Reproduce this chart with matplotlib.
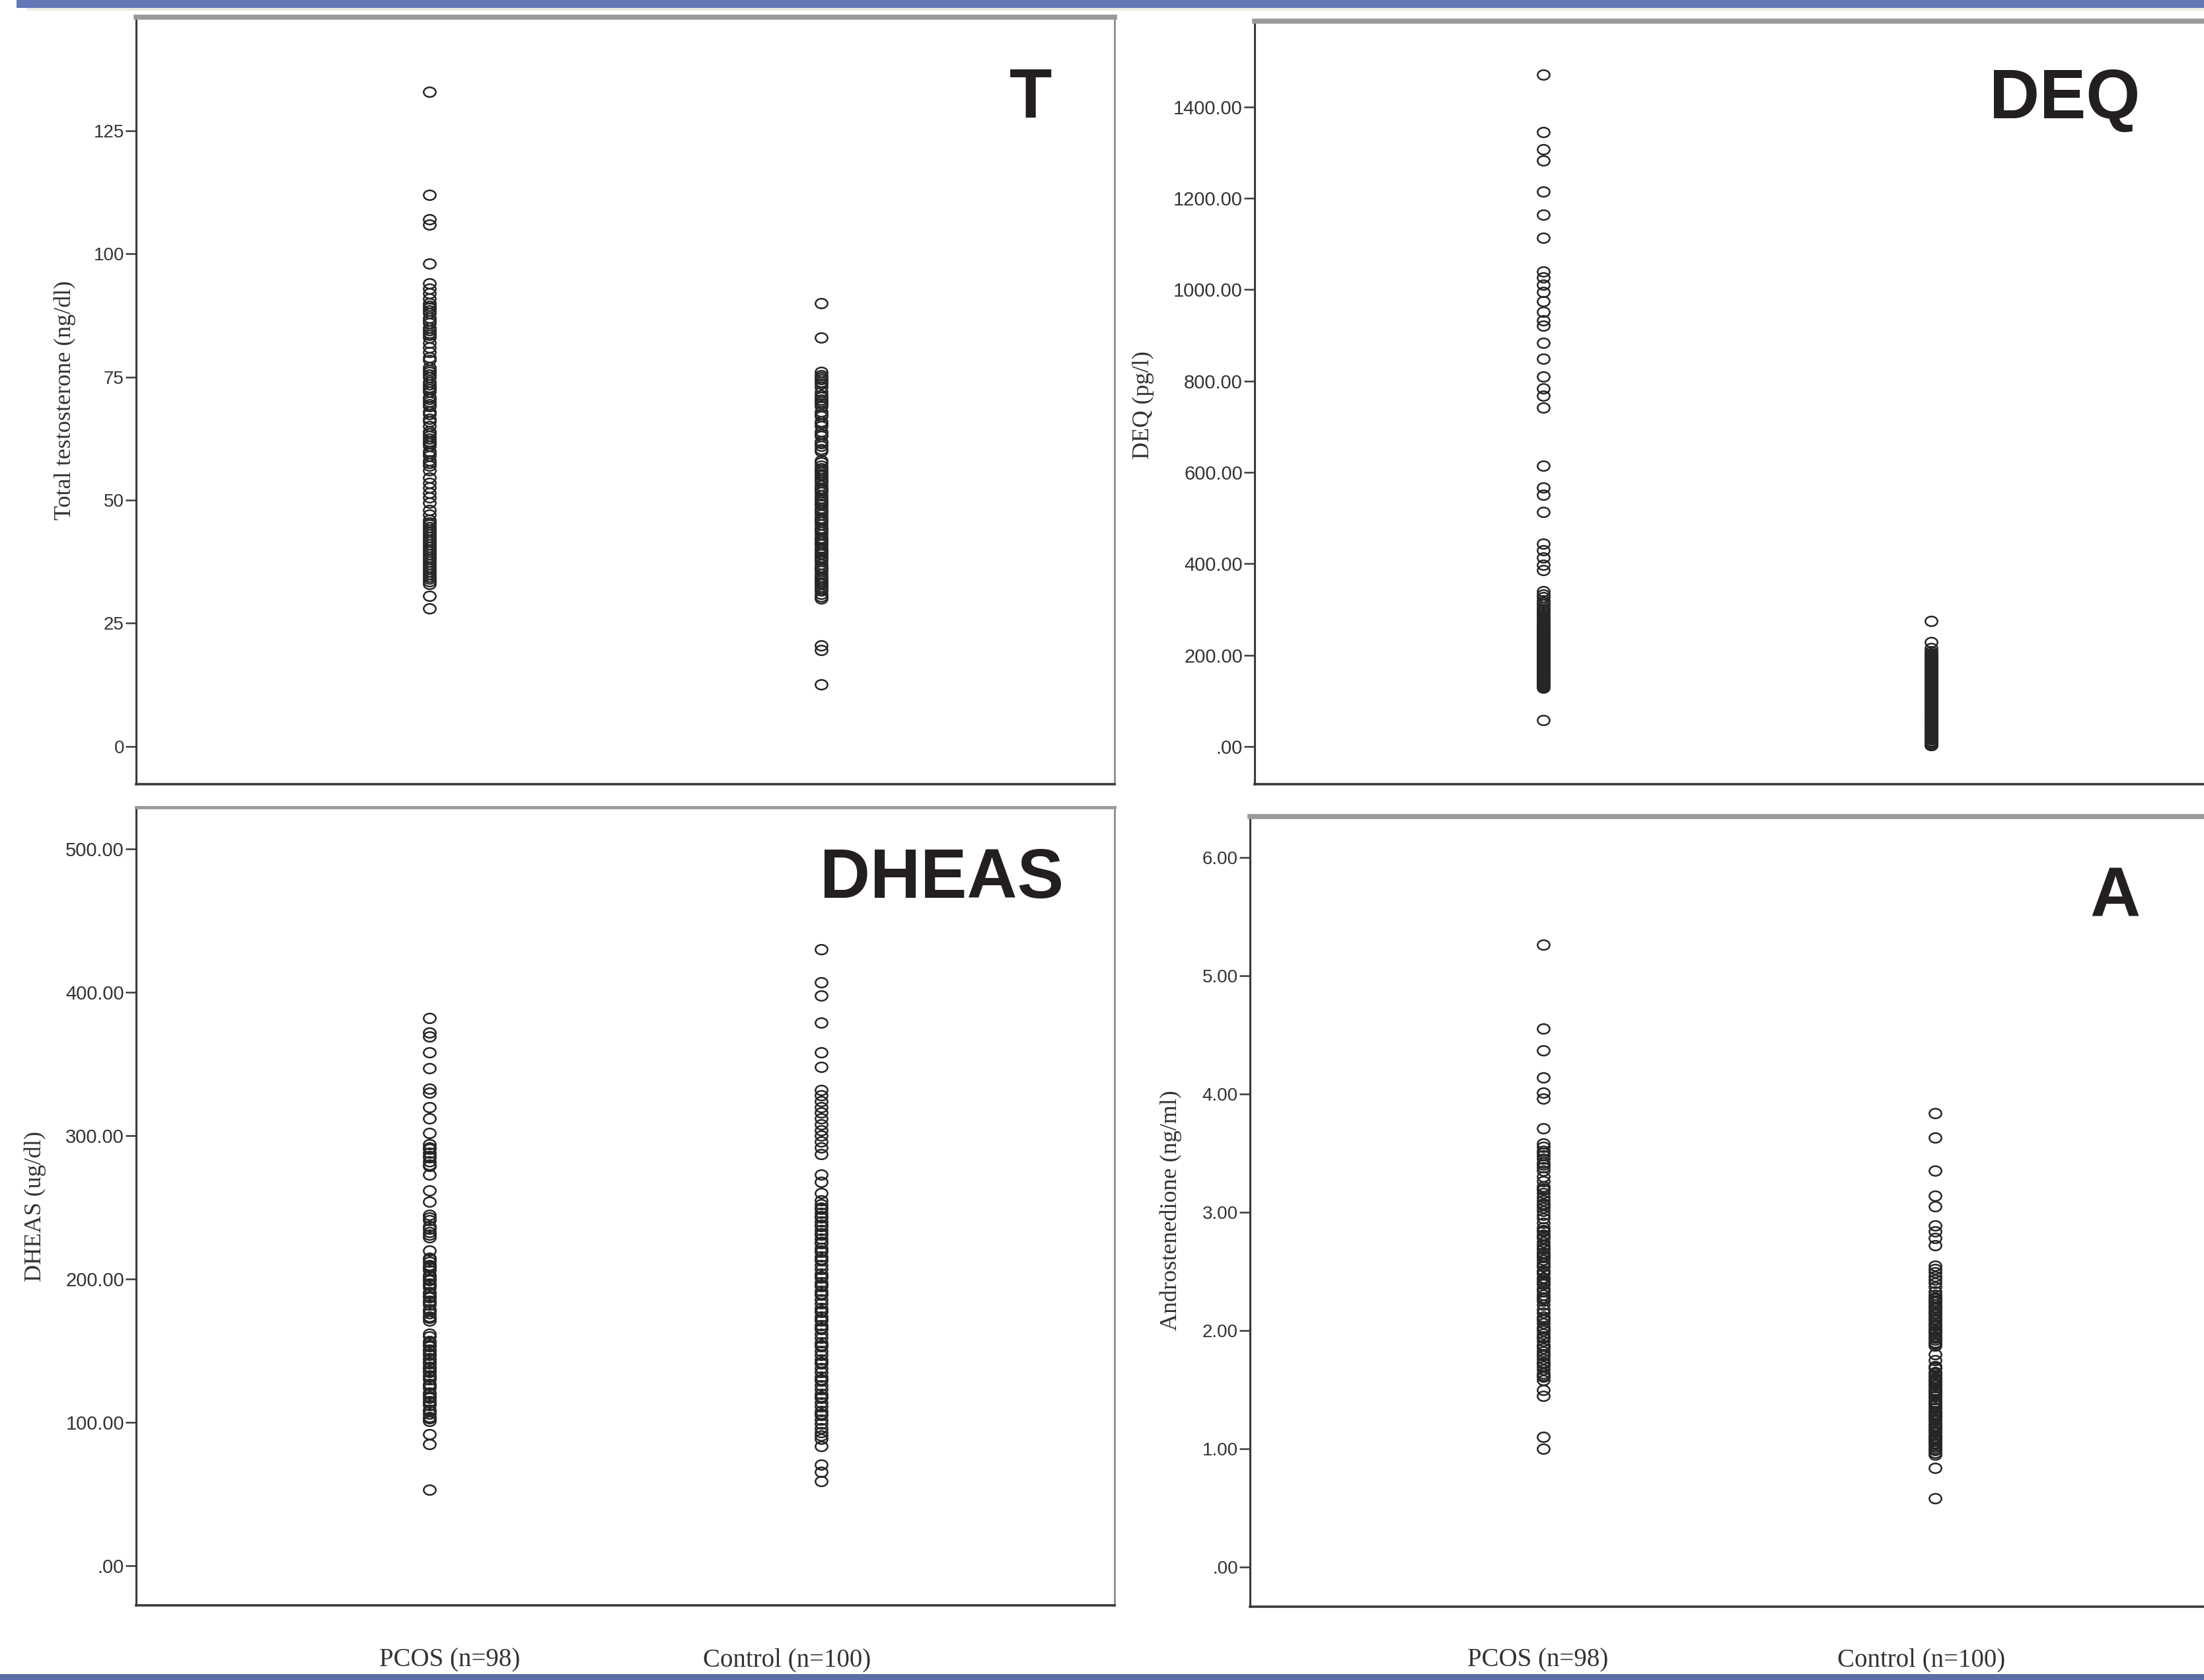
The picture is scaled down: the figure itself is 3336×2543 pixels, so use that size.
import numpy as np
import matplotlib
matplotlib.use("Agg")
import matplotlib.pyplot as plt
from matplotlib.path import Path
from matplotlib.transforms import Affine2D
from matplotlib.ticker import FuncFormatter

# ---------------- data ----------------
groups = ["PCOS (n=98)", "Control (n=100)"]

t_pcos = [133, 112, 107, 106, 98, 94, 93, 92, 91, 90,
          89.5, 89, 88, 87, 86.5, 86, 85, 84, 83.5, 83,
          82, 81, 80, 78.5, 77, 76, 75.5, 75, 74, 73,
          72.5, 72, 71, 70, 69.5, 69, 68, 67.5, 66.5, 65,
          64, 63.5, 63, 62, 61.5, 61, 60, 59.5, 59, 58,
          57, 56, 54.5, 52.5, 51.5, 50.5, 49.5, 47, 46, 45.5,
          45, 44, 43.5, 43, 42, 41.5, 41, 40, 39.5, 39,
          38, 37.5, 37, 36, 35.5, 35, 34.5, 34, 33.5, 33,
          30.5, 28, 88.5, 84.5, 79, 73.5, 66, 62.5, 57.5, 53.5,
          48, 44.5, 40.5, 36.5, 42.5, 38.5, 70.5, 76.5]
t_ctrl = [90, 83, 76, 75.4, 75, 74, 73.6, 73, 72, 71.4,
          71, 70, 69.6, 69, 68, 67.4, 67, 66, 65.6, 65,
          64, 63.4, 63, 62, 61.6, 61, 60.4, 60, 74.6, 70.4,
          58, 57.6, 57, 56.4, 56, 55.6, 55, 54.4, 54, 53.6,
          53, 52.4, 52, 51.6, 51, 50.4, 50, 49.6, 49, 48.4,
          48, 47.6, 47, 46.4, 46, 45.6, 45, 44.4, 44, 43.6,
          43, 42.4, 42, 41.6, 41, 40.4, 40, 39.6, 39, 38.4,
          38, 37.6, 37, 36.4, 36, 35.6, 35, 34.4, 34, 33.6,
          33, 32.4, 32, 31.6, 31, 30.4, 30, 46.2, 42.2, 52.2,
          55.2, 49.2, 39.2, 36.2, 33.2, 44.2, 41.2, 20.5, 19.5, 12.5]

deq_pcos = [1471, 1344, 1307, 1283, 1215, 1164, 1113, 1039, 1026, 1011,
            995, 974, 952, 933, 921, 884, 849, 810, 783, 767,
            741, 614, 566, 550, 513, 444, 429, 413, 397, 386,
            58, 339, 332, 326, 320, 315, 310, 305, 300, 296,
            292, 288, 284, 280, 276, 272, 268, 264, 260, 257,
            254, 251, 248, 245, 242, 239, 236, 233, 230, 227,
            224, 221, 218, 215, 212, 209, 206, 203, 200, 197,
            194, 191, 188, 185, 182, 179, 176, 173, 170, 167,
            164, 161, 158, 155, 152, 149, 146, 143, 140, 137,
            134, 131, 128, 262, 246, 222, 198, 176]
deq_ctrl = [275, 228, 215, 208, 204, 201, 198, 195, 192, 189,
            186, 183, 180, 177, 174, 171, 168, 165, 162, 159,
            156, 153, 150, 147, 144, 141, 138, 135, 132, 129,
            126, 123, 120, 117, 114, 111, 108, 105, 102, 99,
            96, 93, 90, 87, 84, 81, 78, 75, 72, 69,
            66, 63, 60, 57, 54, 51, 48, 45, 42, 39,
            36, 33, 30, 27, 24, 21, 18, 15, 12, 9,
            6, 3, 2, 200, 190, 170, 160, 146, 136, 124,
            112, 100, 88, 76, 64, 52, 40, 22, 10, 96,
            82, 70, 58, 46, 34, 16, 4, 140, 104, 74]

dheas_pcos = [382, 372, 369, 358, 347, 333, 330, 320, 312, 302,
              294, 291, 288, 285, 282, 279, 273, 262, 254, 245,
              241, 237, 233, 229, 220, 215, 212, 209, 206, 203,
              200, 197, 194, 191, 188, 185, 182, 179, 176, 173,
              171, 162, 157, 154, 151, 148, 145, 142, 139, 136,
              133, 130, 127, 124, 121, 118, 115, 112, 109, 106,
              104, 101, 92, 85, 53, 292, 286, 280, 243, 235,
              231, 214, 208, 202, 196, 190, 184, 178, 174, 210,
              199, 187, 156, 150, 144, 138, 132, 126, 120, 114,
              108, 103, 160, 153, 147, 141, 135, 117]
dheas_ctrl = [430, 407, 398, 379, 358, 348, 332, 328, 324, 320,
              316, 312, 308, 304, 300, 296, 292, 287, 273, 268,
              260, 255, 252, 249, 246, 243, 240, 237, 234, 231,
              228, 225, 222, 219, 216, 213, 210, 207, 204, 201,
              198, 195, 192, 189, 186, 183, 180, 177, 174, 171,
              168, 165, 162, 159, 156, 153, 150, 147, 144, 141,
              138, 135, 132, 129, 126, 123, 120, 117, 114, 111,
              108, 105, 102, 99, 96, 93, 91, 88.6, 83.5, 70.6,
              65.5, 59, 250, 238, 226, 214, 202, 190, 178, 166,
              154, 142, 130, 118, 106, 244, 232, 220, 196, 172]

a_pcos = [5.26, 4.55, 4.37, 4.14, 4.01, 3.96, 3.71, 1.50, 1.45, 1.10,
          1.00, 3.58, 3.55, 3.52, 3.48, 3.45, 3.42, 3.38, 3.35, 3.30,
          3.26, 3.22, 3.19, 3.16, 3.13, 3.10, 3.07, 3.04, 3.01, 2.98,
          2.95, 2.91, 2.87, 2.84, 2.81, 2.78, 2.75, 2.72, 2.69, 2.66,
          2.63, 2.60, 2.57, 2.54, 2.51, 2.48, 2.45, 2.42, 2.39, 2.36,
          2.33, 2.30, 2.27, 2.25, 2.22, 2.18, 2.15, 2.12, 2.09, 2.06,
          2.03, 2.00, 1.97, 1.94, 1.91, 1.88, 1.85, 1.82, 1.79, 1.76,
          1.73, 1.70, 1.67, 1.64, 1.61, 1.58, 3.50, 3.40, 3.20, 3.06,
          2.85, 2.70, 2.62, 2.55, 2.44, 2.35, 2.28, 2.10, 2.02, 1.95,
          1.87, 1.80, 1.72, 1.62, 2.50, 2.40, 2.65, 2.80]
a_ctrl = [3.84, 3.63, 3.35, 3.14, 3.05, 2.89, 2.84, 2.78, 2.72, 0.58,
          2.55, 2.52, 2.49, 2.46, 2.43, 2.40, 2.37, 2.33, 2.30, 2.27,
          2.25, 2.22, 2.20, 2.17, 2.15, 2.12, 2.10, 2.07, 2.05, 2.02,
          2.00, 1.97, 1.95, 1.92, 1.90, 1.87, 1.80, 1.75, 1.70, 1.68,
          1.65, 1.62, 1.60, 1.57, 1.55, 1.52, 1.50, 1.47, 1.45, 1.42,
          1.40, 1.37, 1.35, 1.32, 1.30, 1.27, 1.25, 1.22, 1.20, 1.17,
          1.15, 1.12, 1.10, 1.07, 1.05, 1.02, 1.00, 0.97, 0.95, 0.84,
          2.24, 2.19, 2.14, 2.09, 2.04, 1.99, 1.94, 1.89, 1.69, 1.64,
          1.59, 1.54, 1.49, 1.44, 1.39, 1.34, 1.29, 1.24, 1.19, 1.14,
          1.09, 1.04, 0.99, 1.58, 1.48, 1.38, 1.28, 1.18, 1.08, 2.28]

t_ticks = [0, 25, 50, 75, 100, 125]
deq_ticks = [0, 200, 400, 600, 800, 1000, 1200, 1400]
dheas_ticks = [0, 100, 200, 300, 400, 500]
a_ticks = [0, 1, 2, 3, 4, 5, 6]

# ---------------- figure ----------------
W, H = 3336, 2543
fig = plt.figure(figsize=(W / 100, H / 100), dpi=100)
fig.patch.set_facecolor("white")

# decorative slide bars
bar = fig.add_axes([0, 0, 1, 1], zorder=-5)
bar.set_xlim(0, W)
bar.set_ylim(H, 0)
bar.axis("off")
bar.fill_between([25, W], 0, 12, color="#6478b8", lw=0)
bar.fill_between([41, W], 12, 16, color="#ecebe0", lw=0)
bar.fill_between([0, W], 2534, 2543, color="#5a6fa8", lw=0)

ellipse = Path.unit_circle().transformed(Affine2D().scale(1.0, 0.8))


def fmt2(v, pos):
    s = "%.2f" % v
    return s[1:] if s.startswith("0") else s


def fmt_int(v, pos):
    return "%d" % v


panels = [
    dict(rect=(206, 26, 1687, 1187), data=(t_pcos, t_ctrl), ylim=(-7.7, 148.1),
         xlim=(-0.75, 1.75), ticks=t_ticks, fmt=fmt_int, tsize=20, topw=5.5,
         ylabel="Total testosterone (ng/dl)", ylpos=(98, 606),
         big="T", bigpos=(1560, 151)),
    dict(rect=(1899, 32, 3380, 1187), data=(deq_pcos, deq_ctrl), ylim=(-82.7, 1587.6),
         xlim=(-0.745, 1.78), ticks=deq_ticks, fmt=fmt2, tsize=21, topw=5.5,
         ylabel="DEQ (pg/l)", ylpos=(1730, 613),
         big="DEQ", bigpos=(3125, 151)),
    dict(rect=(206, 1222, 1687, 2430), data=(dheas_pcos, dheas_ctrl), ylim=(-27.5, 529.1),
         xlim=(-0.75, 1.75), ticks=dheas_ticks, fmt=fmt2, tsize=21, topw=3.5,
         ylabel="DHEAS (ug/dl)", ylpos=(53, 1826),
         big="DHEAS", bigpos=(1425, 1331)),
    dict(rect=(1892, 1236, 3373, 2432), data=(a_pcos, a_ctrl), ylim=(-0.333, 6.344),
         xlim=(-0.75, 1.75), ticks=a_ticks, fmt=fmt2, tsize=20, topw=5.5,
         ylabel="Androstenedione (ng/ml)", ylpos=(1772, 1832),
         big="A", bigpos=(3202, 1360)),
]

for p in panels:
    l, t, r, b = p["rect"]
    ax = fig.add_axes([l / W, 1 - b / H, (r - l) / W, (b - t) / H])
    ax.set_facecolor("white")
    for i, vals in enumerate(p["data"]):
        ax.plot(np.full(len(vals), i), vals, linestyle="none", marker=ellipse,
                markersize=13.2, markerfacecolor="none", markeredgecolor="#262626",
                markeredgewidth=1.8)
    ax.set_xlim(*p["xlim"])
    ax.set_ylim(*p["ylim"])
    ax.set_xticks([])
    ax.set_yticks(p["ticks"])
    ax.yaxis.set_major_formatter(FuncFormatter(p["fmt"]))
    ax.tick_params(axis="y", direction="out", length=11.5, width=1.8, color="#3a3a3a",
                   pad=1.5, labelsize=p["tsize"], labelcolor="#333333")
    for lab in ax.get_yticklabels():
        lab.set_family("Liberation Sans")
    ax.spines["top"].set_color("#999999")
    ax.spines["top"].set_linewidth(p["topw"])
    ax.spines["right"].set_color("#8c8c8c")
    ax.spines["right"].set_linewidth(2.0)
    ax.spines["left"].set_color("#3a3a3a")
    ax.spines["left"].set_linewidth(2.2)
    ax.spines["bottom"].set_color("#3a3a3a")
    ax.spines["bottom"].set_linewidth(2.6)

    fig.text(p["ylpos"][0] / W, 1 - p["ylpos"][1] / H, p["ylabel"], rotation=90,
             ha="center", va="center", family="Liberation Serif", fontsize=26,
             color="#333333")
    fig.text(p["bigpos"][0] / W, 1 - p["bigpos"][1] / H, p["big"], ha="center",
             va="center", family="Liberation Sans", fontweight="bold", fontsize=76,
             color="#231f20")

# category labels under the bottom panels
for x, lab in [(681, groups[0]), (1191, groups[1]), (2328, groups[0]), (2908, groups[1])]:
    fig.text(x / W, 1 - 2513 / H, lab, ha="center", va="center",
             family="Liberation Serif", fontsize=28, color="#333333")

fig.savefig("out.png", dpi=100, facecolor="white")
